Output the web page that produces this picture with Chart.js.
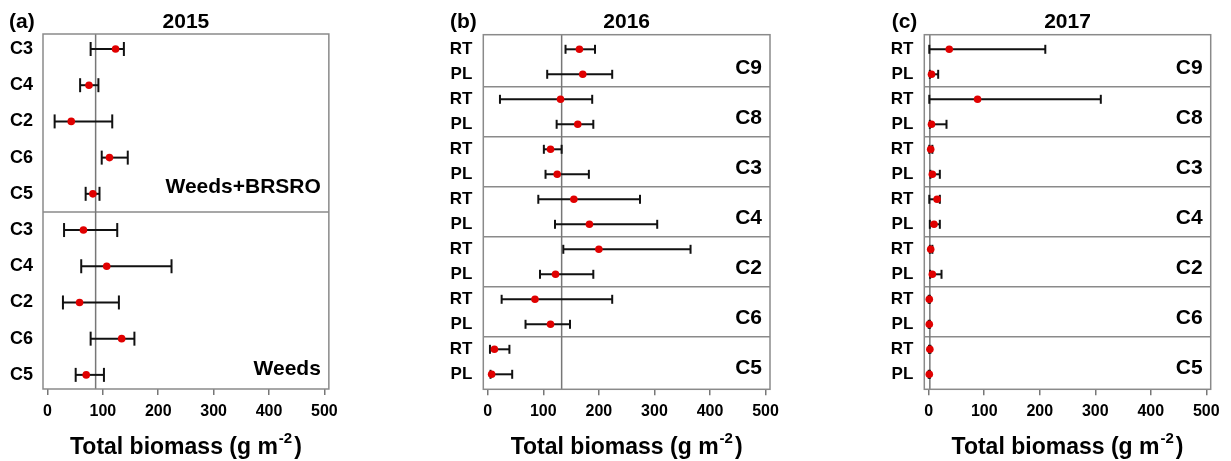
<!DOCTYPE html>
<html>
<head>
<meta charset="utf-8">
<script src="https://cdn.jsdelivr.net/npm/chart.js@4.4.0/dist/chart.umd.min.js"></script>
<style>
  body { margin: 0; background: #fff; width: 1231px; height: 461px; position: relative; overflow: hidden; }
  .p { position: absolute; top: 0; height: 461px; }
</style>
</head>
<body>
<div class="p" style="left:0;width:345px"><canvas id="ca"></canvas></div>
<div class="p" style="left:400px;width:390px"><canvas id="cb"></canvas></div>
<div class="p" style="left:860px;width:371px"><canvas id="cc"></canvas></div>
<script>
// ---- data ----
const xTicks = [0, 100, 200, 300, 400, 500];

// 2015: rows top to bottom
const rows2015 = ["C3", "C4", "C2", "C6", "C5", "C3", "C4", "C2", "C6", "C5"];
const groups2015 = ["Weeds+BRSRO", "Weeds"];
const mean2015 = [123, 75, 43, 112, 82, 65, 107, 58, 134, 70];
const low2015 = [78, 59, 13, 98, 69, 30, 61, 28, 78, 51];
const high2015 = [138, 92, 117, 145, 94, 126, 224, 129, 157, 102];
const ref2015 = 87;

// 2016 / 2017: RT, PL for each crop group
const rowsRTPL = ["RT", "PL", "RT", "PL", "RT", "PL", "RT", "PL", "RT", "PL", "RT", "PL", "RT", "PL"];
const groupsRTPL = ["C9", "C8", "C3", "C4", "C2", "C6", "C5"];

const mean2016 = [165, 171, 131, 162, 113, 125, 155, 183, 200, 122, 85, 113, 12, 7];
const low2016 = [140, 107, 22, 124, 101, 104, 91, 121, 136, 94, 25, 68, 4, 5];
const high2016 = [193, 224, 188, 190, 133, 182, 274, 305, 365, 190, 224, 148, 39, 44];
const ref2016 = 133;

const mean2017 = [37, 5, 88, 5, 3.5, 6.5, 15, 9.5, 3.5, 6.5, 1, 1, 2, 1];
const low2017 = [1, 2, 1, 2, 1, 3, 1, 2, 2, 2.5, 0, 0, 0.5, 0];
const high2017 = [210, 17, 310, 32, 6.5, 20, 20, 20, 6.5, 23, 2, 2, 3, 2];
const ref2017 = 2;

const FONT = '"Liberation Sans", Arial, sans-serif';

function panel(id, cfg) {
  const line = (ctx, x1, y1, x2, y2) => {
    ctx.beginPath(); ctx.moveTo(x1, y1); ctx.lineTo(x2, y2); ctx.stroke();
  };
  const deco = {
    id: "deco",
    beforeDatasetsDraw(chart) {
      const { ctx, chartArea: a, scales: { x, y } } = chart;
      ctx.save();
      ctx.strokeStyle = "#8a8a8a";
      ctx.lineWidth = 1.5;
      cfg.dividers.forEach(d => {
        const py = y.getPixelForValue(d);
        line(ctx, a.left, py, a.right, py);
      });
      ctx.strokeStyle = "#777";
      const rx = x.getPixelForValue(cfg.ref);
      line(ctx, rx, a.top, rx, a.bottom);
      // error bars
      ctx.strokeStyle = "#111";
      ctx.lineWidth = 2;
      cfg.low.forEach((lo, i) => {
        const py = y.getPixelForValue(i);
        const x1 = x.getPixelForValue(lo), x2 = x.getPixelForValue(cfg.high[i]);
        line(ctx, x1, py, x2, py);
        line(ctx, x1, py - cfg.cap, x1, py + cfg.cap);
        line(ctx, x2, py - cfg.cap, x2, py + cfg.cap);
      });
      ctx.restore();
    },
    afterDraw(chart) {
      const { ctx, chartArea: a, scales: { x, y } } = chart;
      ctx.save();
      ctx.strokeStyle = "#8a8a8a";
      ctx.lineWidth = 1.5;
      ctx.strokeRect(a.left, a.top, a.right - a.left, a.bottom - a.top);
      ctx.fillStyle = "#000";
      ctx.textBaseline = "middle";
      ctx.font = "bold 21px " + FONT;
      ctx.textAlign = "left";
      ctx.fillText(cfg.tag, cfg.tagX, 22);
      ctx.textAlign = "center";
      ctx.fillText(cfg.title, (a.left + a.right) / 2, 22);
      // group labels
      ctx.textAlign = "right";
      cfg.groups.forEach((g, k) => {
        ctx.fillText(g, a.right - 8, y.getPixelForValue(k * cfg.groupSize + cfg.groupPos));
      });
      // axis title with superscript
      const main = "Total biomass (g m", sup = "-2", end = ")";
      ctx.font = "bold 23px " + FONT;
      const w1 = ctx.measureText(main).width, w3 = ctx.measureText(end).width;
      ctx.font = "bold 15px " + FONT;
      const w2 = ctx.measureText(sup).width;
      const cx = (x.getPixelForValue(0) + x.getPixelForValue(500)) / 2;
      let sx = cx - (w1 + w2 + w3 + 3) / 2;
      const ty = 448;
      ctx.textAlign = "left";
      ctx.font = "bold 23px " + FONT;
      ctx.fillText(main, sx, ty);
      ctx.font = "bold 15px " + FONT;
      ctx.fillText(sup, sx + w1 + 1, ty - 9);
      ctx.font = "bold 23px " + FONT;
      ctx.fillText(end, sx + w1 + w2 + 3, ty);
      ctx.restore();
    }
  };

  return new Chart(document.getElementById(id), {
    type: "scatter",
    data: {
      datasets: [{
        data: cfg.mean.map((v, i) => ({ x: v, y: i })),
        pointBackgroundColor: "#e00000",
        pointBorderColor: "#e00000",
        pointRadius: 3.8,
        pointBorderWidth: 0
      }]
    },
    options: {
      animation: false,
      responsive: true,
      maintainAspectRatio: false,
      layout: { padding: { top: cfg.top, right: cfg.right, left: 0, bottom: 0 } },
      plugins: { legend: { display: false }, tooltip: { enabled: false } },
      scales: {
        x: {
          type: "linear",
          min: -8, max: 508,
          afterBuildTicks: s => { s.ticks = xTicks.map(v => ({ value: v })); },
          afterFit: s => { s.height = 461 - cfg.bottom; },
          border: { display: false },
          grid: { drawOnChartArea: false, drawTicks: true, tickLength: 6, color: "#777", lineWidth: 1.5 },
          ticks: { color: "#000", font: { family: FONT, size: 16, weight: "bold" }, padding: 7, maxRotation: 0 }
        },
        y: {
          type: "linear",
          reverse: true,
          min: cfg.ymin, max: cfg.ymax,
          afterBuildTicks: s => { s.ticks = cfg.rows.map((r, i) => ({ value: i })); },
          afterFit: s => { s.width = cfg.left; },
          border: { display: false },
          grid: { display: false, drawTicks: false },
          ticks: {
            color: "#000",
            font: { family: FONT, size: cfg.rowFont, weight: "bold" },
            padding: cfg.labelPad,
            autoSkip: false,
            callback: v => cfg.rows[v]
          }
        }
      }
    },
    plugins: [deco]
  });
}

panel("ca", {
  rows: rows2015, groups: groups2015, mean: mean2015, low: low2015, high: high2015, ref: ref2015,
  title: "2015", tag: "(a)", tagX: 9,
  ymin: -0.414, ymax: 9.39, dividers: [4.5], groupSize: 5, groupPos: 3.83,
  top: 34, right: 15, bottom: 389, left: 43, labelPad: 10, rowFont: 18, cap: 7
});
panel("cb", {
  rows: rowsRTPL, groups: groupsRTPL, mean: mean2016, low: low2016, high: high2016, ref: ref2016,
  title: "2016", tag: "(b)", tagX: 50,
  ymin: -0.584, ymax: 13.6, dividers: [1.5, 3.5, 5.5, 7.5, 9.5, 11.5], groupSize: 2, groupPos: 0.76,
  top: 34.7, right: 20, bottom: 389.3, left: 83.3, labelPad: 11, rowFont: 17, cap: 4.5
});
panel("cc", {
  rows: rowsRTPL, groups: groupsRTPL, mean: mean2017, low: low2017, high: high2017, ref: ref2017,
  title: "2017", tag: "(c)", tagX: 31.7,
  ymin: -0.584, ymax: 13.6, dividers: [1.5, 3.5, 5.5, 7.5, 9.5, 11.5], groupSize: 2, groupPos: 0.76,
  top: 34.7, right: 20.3, bottom: 389.3, left: 64.3, labelPad: 11, rowFont: 17, cap: 4.5
});
</script>
</body>
</html>
